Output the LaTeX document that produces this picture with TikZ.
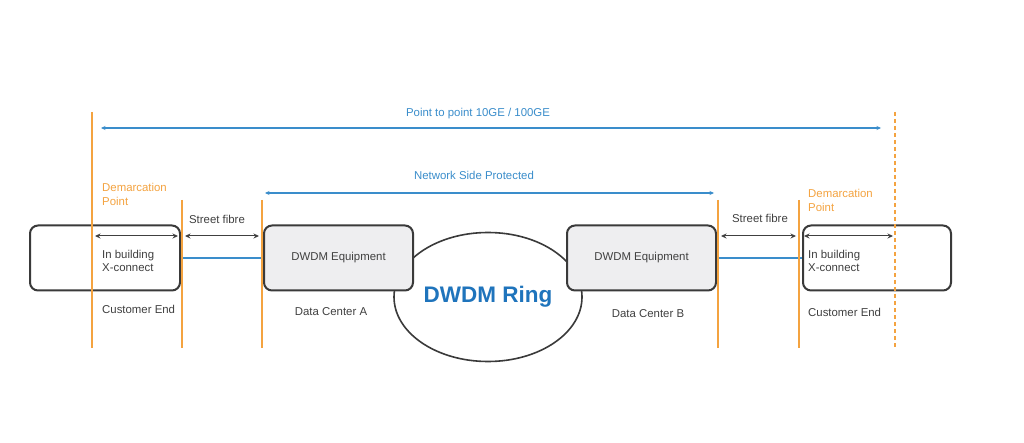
\documentclass[tikz,border=0pt]{standalone}
\usepackage{fontspec}
\setmainfont{Liberation Sans}
\usetikzlibrary{arrows.meta,shapes.geometric}
\definecolor{orangeln}{HTML}{F4A340}
\definecolor{blueln}{HTML}{3A8DCB}
\definecolor{ringblue}{HTML}{1F74BC}
\definecolor{txtgray}{HTML}{404040}
\definecolor{boxgray}{HTML}{EEEEF0}
\definecolor{boxedge}{HTML}{3A3A3A}
\tikzset{
  lbl/.style={font=\fontsize{11.4}{13.5}\selectfont, text=txtgray, inner sep=0pt},
  bluelbl/.style={font=\fontsize{11.4}{13.5}\selectfont, text=blueln, inner sep=0pt},
  orangelbl/.style={font=\fontsize{11.4}{14}\selectfont, text=orangeln, inner sep=0pt, align=left, anchor=west},
  endbox/.style={draw=boxedge, line width=2pt, rounded corners=8pt, fill=white, minimum width=150pt, minimum height=65pt, inner sep=0pt},
  eqbox/.style={endbox, fill=boxgray, font=\fontsize{11.4}{13.5}\selectfont, text=txtgray},
  demarc/.style={draw=orangeln, line width=1.3pt},
  bluearr/.style={draw=blueln, line width=1.2pt, {Stealth[length=4.5pt,width=4pt]}-{Stealth[length=4.5pt,width=4pt]}},
  blackarr/.style={draw=txtgray, line width=1pt, {Stealth[length=5.5pt,width=5pt]}-{Stealth[length=5.5pt,width=5pt]}},
  fibre/.style={draw=blueln, line width=1.1pt}
}
\begin{document}
\begin{tikzpicture}[x=1pt,y=-1pt]
\useasboundingbox[fill=white] (0,0) rectangle (1024,443);
% ring
\node[ellipse, draw=boxedge, line width=1.6pt, minimum width=188pt, minimum height=129pt, inner sep=0pt,
      font=\bfseries\fontsize{22.5}{24}\selectfont, text=ringblue] (ring) at (488,297) {DWDM Ring};
% boxes
\node[endbox] (xcL) at (105,258) {};
\node[eqbox, minimum width=149pt] (dcA) at (338.5,258) {DWDM Equipment};
\node[eqbox, minimum width=149pt] (dcB) at (641.5,258) {DWDM Equipment};
\node[endbox, minimum width=148pt] (xcR) at (877,258) {};
% fibre links
\draw[fibre] (xcL.east) -- (dcA.west);
\draw[fibre] (dcB.east) -- (xcR.west);
% demarcation lines
\coordinate (v1t) at (92,112);  \coordinate (v1b) at (92,348);
\coordinate (v2t) at (182,200); \coordinate (v2b) at (182,348);
\coordinate (v3t) at (262,200); \coordinate (v3b) at (262,348);
\coordinate (v4t) at (718,200); \coordinate (v4b) at (718,348);
\coordinate (v5t) at (799,200); \coordinate (v5b) at (799,348);
\coordinate (v6t) at (895,112); \coordinate (v6b) at (895,348);
\draw[demarc] (v1t) -- (v1b);
\draw[demarc] (v2t) -- (v2b);
\draw[demarc] (v3t) -- (v3b);
\draw[demarc] (v4t) -- (v4b);
\draw[demarc] (v5t) -- (v5b);
\draw[demarc, dash pattern=on 4pt off 3pt] (v6t) -- (v6b);
% blue span arrows
\coordinate (p2pL) at (101,128); \coordinate (p2pR) at (881,128);
\draw[bluearr] (p2pL) -- (p2pR);
\node[bluelbl] (p2plbl) at (478,114) {Point to point 10GE / 100GE};
\coordinate (nspL) at (265,193); \coordinate (nspR) at (714,193);
\draw[bluearr] (nspL) -- (nspR);
\node[bluelbl] (nsplbl) at (474,175.5) {Network Side Protected};
% black arrows
\coordinate (a1) at (95,236);  \coordinate (a2) at (178,236);
\coordinate (a3) at (185,236); \coordinate (a4) at (259,236);
\coordinate (a5) at (721,236); \coordinate (a6) at (796,236);
\coordinate (a7) at (804,236); \coordinate (a8) at (893,236);
\draw[blackarr] (a1) -- (a2);
\draw[blackarr] (a3) -- (a4);
\draw[blackarr] (a5) -- (a6);
\draw[blackarr] (a7) -- (a8);
% labels
\node[orangelbl] (dpL) at (102,194) {Demarcation\\Point};
\node[orangelbl] (dpR) at (808,200) {Demarcation\\Point};
\node[lbl] (sfL) at (217,219) {Street fibre};
\node[lbl] (sfR) at (760,218.5) {Street fibre};
\node[lbl, align=left, anchor=west] (ibL) at (102,261) {In building\\X-connect};
\node[lbl, align=left, anchor=west] (ibR) at (808,261) {In building\\X-connect};
\node[lbl, anchor=west] (ceL) at (102,309.5) {Customer End};
\node[lbl, anchor=west] (ceR) at (808,312.5) {Customer End};
\node[lbl] (dcAlbl) at (331,311.5) {Data Center A};
\node[lbl] (dcBlbl) at (648,313.5) {Data Center B};
\end{tikzpicture}
\end{document}
